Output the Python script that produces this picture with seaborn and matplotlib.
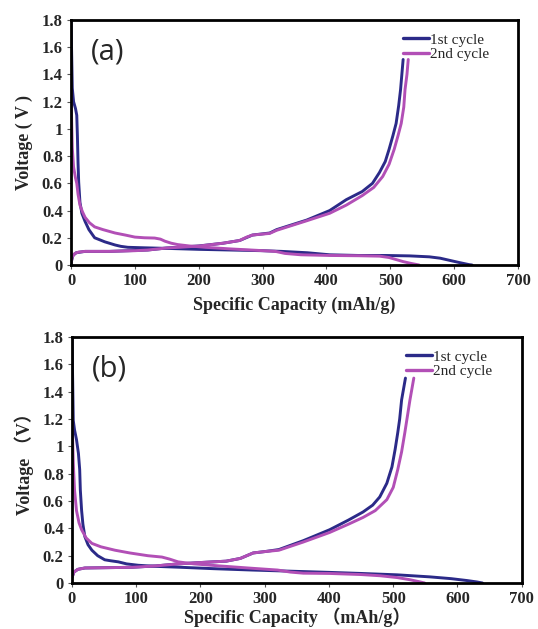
import numpy as np
import pandas as pd
import seaborn as sns
import matplotlib.pyplot as plt

# ---- panel (a) ----
a_dis1_x = [0, 1, 2, 4, 7, 9, 10, 11, 12, 14, 17, 22, 28, 37, 45, 53, 60, 69, 78, 89, 110, 150, 200, 250, 300, 330,
            370, 405, 450, 493, 530, 561, 578, 592, 608, 623, 628]
a_dis1_y = [1.8, 1.55, 1.3, 1.2, 1.15, 1.1, 0.95, 0.75, 0.61, 0.46, 0.38, 0.32, 0.26, 0.2, 0.185, 0.17, 0.16, 0.147,
            0.137, 0.13, 0.127, 0.122, 0.115, 0.11, 0.105, 0.1, 0.09, 0.075, 0.07, 0.07, 0.067, 0.06, 0.05, 0.035,
            0.018, 0.003, 0.0]
a_chg1_x = [0, 3, 8, 22, 60, 120, 150, 200, 238, 264, 284, 311, 322, 369, 405, 431, 456, 472, 483, 492, 498, 504, 509,
            513, 516, 518, 520]
a_chg1_y = [0.015, 0.07, 0.09, 0.1, 0.1, 0.11, 0.125, 0.14, 0.16, 0.18, 0.22, 0.235, 0.26, 0.33, 0.4, 0.48, 0.54,
            0.6, 0.68, 0.76, 0.85, 0.95, 1.04, 1.17, 1.29, 1.4, 1.51]
a_dis2_x = [0, 1, 2, 4, 7, 9, 11, 14, 18, 22, 29, 37, 50, 69, 85, 100, 115, 131, 140, 147, 157, 167, 185, 210, 250, 290,
            320, 335, 360, 405, 450, 483, 498, 509, 520, 532, 545]
a_dis2_y = [1.28, 1.05, 0.86, 0.72, 0.64, 0.6, 0.52, 0.44, 0.39, 0.35, 0.31, 0.28, 0.26, 0.235, 0.22, 0.205, 0.2,
            0.198, 0.19, 0.175, 0.16, 0.15, 0.14, 0.13, 0.118, 0.108, 0.1, 0.085, 0.075, 0.07, 0.068, 0.065, 0.055,
            0.04, 0.025, 0.012, 0.0]
a_chg2_x = [0, 2, 6, 12, 22, 60, 100, 120, 140, 150, 170, 202, 238, 264, 275, 284, 311, 322, 369, 405, 431, 456, 474,
            488, 498, 506, 512, 517, 521, 523, 526, 528]
a_chg2_y = [0.015, 0.06, 0.085, 0.095, 0.1, 0.1, 0.105, 0.11, 0.12, 0.125, 0.13, 0.14, 0.16, 0.18, 0.205, 0.22, 0.232,
            0.255, 0.325, 0.38, 0.44, 0.51, 0.57, 0.65, 0.74, 0.85, 0.95, 1.04, 1.16, 1.29, 1.4, 1.51]

# ---- panel (b) ----
b_dis1_x = [0, 1, 2, 4, 7, 10, 12, 13, 15, 17, 20, 25, 31, 40, 51, 60, 72, 85, 103, 130, 170, 220, 280, 330, 400, 450,
            506, 557, 590, 615, 630, 639]
b_dis1_y = [1.8, 1.5, 1.19, 1.12, 1.05, 0.95, 0.83, 0.68, 0.53, 0.43, 0.34, 0.28, 0.24, 0.2, 0.17, 0.163, 0.155,
            0.14, 0.13, 0.122, 0.115, 0.105, 0.095, 0.088, 0.078, 0.07, 0.06, 0.045, 0.032, 0.018, 0.008, 0.0]
b_chg1_x = [0, 3, 9, 20, 93, 130, 165, 200, 240, 262, 282, 300, 322, 360, 401, 430, 453, 468, 479, 490, 498, 503, 507,
            510, 513, 516, 519]
b_chg1_y = [0.04, 0.08, 0.1, 0.11, 0.115, 0.125, 0.14, 0.15, 0.16, 0.18, 0.22, 0.23, 0.245, 0.31, 0.39, 0.46, 0.52,
            0.57, 0.63, 0.73, 0.85, 0.98, 1.1, 1.2, 1.34, 1.42, 1.5]
b_dis2_x = [0, 1, 2, 4, 7, 11, 15, 22, 31, 45, 67, 90, 118, 140, 152, 165, 190, 230, 280, 320, 340, 360, 401, 450, 480,
            506, 525, 540, 549]
b_dis2_y = [1.27, 1.05, 0.88, 0.68, 0.53, 0.44, 0.39, 0.33, 0.29, 0.265, 0.24, 0.22, 0.2, 0.19, 0.175, 0.155, 0.14,
            0.125, 0.108, 0.095, 0.08, 0.072, 0.07, 0.062, 0.053, 0.04, 0.025, 0.01, 0.0]
b_chg2_x = [0, 3, 9, 20, 93, 130, 165, 200, 240, 262, 282, 300, 322, 360, 401, 430, 453, 472, 490, 500, 507, 513, 518,
            522, 526, 529, 532]
b_chg2_y = [0.04, 0.08, 0.1, 0.11, 0.115, 0.125, 0.14, 0.15, 0.16, 0.18, 0.22, 0.23, 0.24, 0.3, 0.37, 0.43, 0.48,
            0.53, 0.61, 0.7, 0.83, 0.96, 1.1, 1.22, 1.34, 1.42, 1.5]

cycles = ['1st cycle', '2nd cycle']
colors = ['#2b2a88', '#b24fb6']


def make_df(dis1x, dis1y, chg1x, chg1y, dis2x, dis2y, chg2x, chg2y):
    parts = []
    for cyc, seg, xs, ys in [(cycles[0], 'd1', dis1x, dis1y), (cycles[0], 'c1', chg1x, chg1y),
                             (cycles[1], 'd2', dis2x, dis2y), (cycles[1], 'c2', chg2x, chg2y)]:
        parts.append(pd.DataFrame({'cap': xs, 'volt': ys, 'cycle': cyc, 'seg': seg}))
    return pd.concat(parts, ignore_index=True)


df_a = make_df(a_dis1_x, a_dis1_y, a_chg1_x, a_chg1_y, a_dis2_x, a_dis2_y, a_chg2_x, a_chg2_y)
df_b = make_df(b_dis1_x, b_dis1_y, b_chg1_x, b_chg1_y, b_dis2_x, b_dis2_y, b_chg2_x, b_chg2_y)

sns.set_style('white')
serif = ['Liberation Serif', 'Noto Sans CJK SC']

fig = plt.figure(figsize=(5.38, 6.29), dpi=100)
ax1 = fig.add_axes([0.132, 0.5787, 0.831, 0.3895])
ax2 = fig.add_axes([0.1338, 0.0731, 0.836, 0.391])

panels = [(ax1, df_a, '(a)', 'Voltage ( V )', 'Specific Capacity (mAh/g)', 5),
          (ax2, df_b, '(b)', 'Voltage \uff08V\uff09', 'Specific Capacity \uff08mAh/g\uff09', 0)]

for ax, df, tag, ylab, xlab, xpad in panels:
    sns.lineplot(data=df, x='cap', y='volt', hue='cycle', units='seg', estimator=None,
                 sort=False, palette=colors, linewidth=2.1, ax=ax)
    ax.set_xlim(0, 700)
    ax.set_ylim(0, 1.8)
    ax.set_xticks(range(0, 701, 100))
    ax.set_yticks(np.arange(0, 1.81, 0.2))
    ax.set_yticklabels(['0', '0.2', '0.4', '0.6', '0.8', '1', '1.2', '1.4', '1.6', '1.8'])
    for lbl in ax.get_xticklabels() + ax.get_yticklabels():
        lbl.set_family(serif)
        lbl.set_fontweight('bold')
        lbl.set_fontsize(12)
    ax.tick_params(bottom=True, left=True, length=3, width=0.8, color='#555555', direction='out', pad=3)
    for sp in ax.spines.values():
        sp.set_linewidth(2)
        sp.set_color('black')
    ax.set_xlabel(xlab, family=serif, fontweight='bold', fontsize=13, labelpad=xpad)
    ax.set_ylabel(ylab, family=serif, fontweight='bold', fontsize=13, labelpad=6)
    ax.text(0.045, 0.93, tag, transform=ax.transAxes, fontsize=21, family='Open Sans',
            va='top', ha='left')
    leg = ax.legend(loc='upper right', bbox_to_anchor=(0.955, 0.985), frameon=False,
                    prop={'family': serif, 'size': 11},
                    handlelength=1.7, handletextpad=0.05, labelspacing=0.05,
                    borderaxespad=0.2)
    for line in leg.get_lines():
        line.set_linewidth(2.4)

fig.savefig('out.png', dpi=100)
